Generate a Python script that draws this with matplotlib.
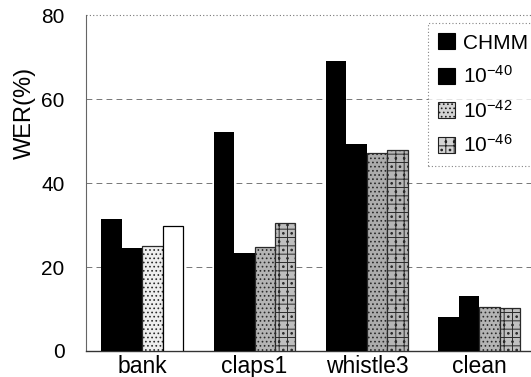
import numpy as np
import matplotlib
matplotlib.use('Agg')
import matplotlib.pyplot as plt

plt.rcParams['font.family'] = ['Liberation Sans', 'Noto Sans CJK JP', 'DejaVu Sans']
plt.rcParams['hatch.linewidth'] = 0.7

# Data
categories = ['bank', 'claps1', 'whistle3', 'clean']
series     = ['CHMM', r'$\mathregular{10^{-40}}$', r'$\mathregular{10^{-42}}$', r'$\mathregular{10^{-46}}$']
wer_chmm   = [31.4, 52.3, 69.1, 8.1]
wer_40     = [24.5, 23.4, 49.4, 13.0]
wer_42     = [25.0, 24.7, 47.3, 10.6]
wer_46     = [29.9, 30.5, 47.9, 10.2]

# styles (scanned look: black / speckled gray)
face = [
    ['black'] * 4,
    ['black'] * 4,
    ['#eeeeee', '#b4b4b4', '#acacac', '#b4b4b4'],
    ['white', '#bebebe', '#b6b6b6', '#c0c0c0'],
]
hatch = [None, None, '....', '++..']
hatch_on = [
    [False] * 4,
    [False] * 4,
    [True, True, True, True],
    [False, True, True, True],
]

fig = plt.figure(figsize=(5.31, 3.77), dpi=100)
ax = fig.add_axes([86/531, 1-351/377, 1-86/531, (351-15.5)/377])

x = np.arange(len(categories))
w = 0.182
vals = [wer_chmm, wer_40, wer_42, wer_46]
handles = []
for k, v in enumerate(vals):
    pos = x + (k - 1.5) * w
    bars = ax.bar(pos, v, width=w, color=face[k], edgecolor='black',
                  linewidth=0.9 if k >= 2 else 0.0, zorder=3)
    for i, b in enumerate(bars):
        if hatch_on[k][i]:
            b.set_hatch(hatch[k])
            b.set_edgecolor('#2a2a2a')
    # legend proxy
    if k < 2:
        h = plt.Rectangle((0, 0), 1, 1, fc='black', ec='black', lw=0.8)
    else:
        h = plt.Rectangle((0, 0), 1, 1, fc='#d4d4d4', ec='#202020', lw=0.8, hatch=hatch[k])
    handles.append(h)

ax.set_xlim(-0.5, 3.46)
ax.set_ylim(0, 80)
ax.set_yticks([0, 20, 40, 60, 80])
ax.set_xticks(x)
ax.set_xticklabels(categories, fontsize=16.5)
ax.tick_params(axis='y', labelsize=15, length=0, pad=15.5)
ax.tick_params(axis='x', length=0, pad=3)

ax.grid(axis='y', color='#606060', linestyle=(0, (7, 5)), linewidth=0.6, zorder=0)
for s in ['top', 'right']:
    ax.spines[s].set_visible(False)
ax.spines['left'].set_linestyle((0, (1, 1)))
ax.spines['left'].set_color('#666666')
ax.spines['left'].set_linewidth(0.8)
ax.spines['bottom'].set_color('#333333')
ax.spines['bottom'].set_linewidth(1.0)
ax.axhline(80, color='#777777', linestyle=(0, (1, 2)), linewidth=0.8, clip_on=False)

fig.text(25/531, 1 - 112.5/377, 'WER(%)', fontsize=17, rotation=90,
         ha='center', va='center')

leg = ax.legend(handles, series, loc='upper left', fontsize=15, frameon=True, fancybox=False,
                handlelength=0.8, handleheight=0.8, handletextpad=0.4, labelspacing=0.6,
                borderpad=0.5, borderaxespad=0)
leg.set_bbox_to_anchor((428/531, 1 - 23/377), transform=fig.transFigure)
fr = leg.get_frame()
fr.set_edgecolor('#666666')
fr.set_linestyle((0, (1, 2)))
fr.set_linewidth(0.8)
leg.set_zorder(5)

fig.savefig('out.png', dpi=100)
